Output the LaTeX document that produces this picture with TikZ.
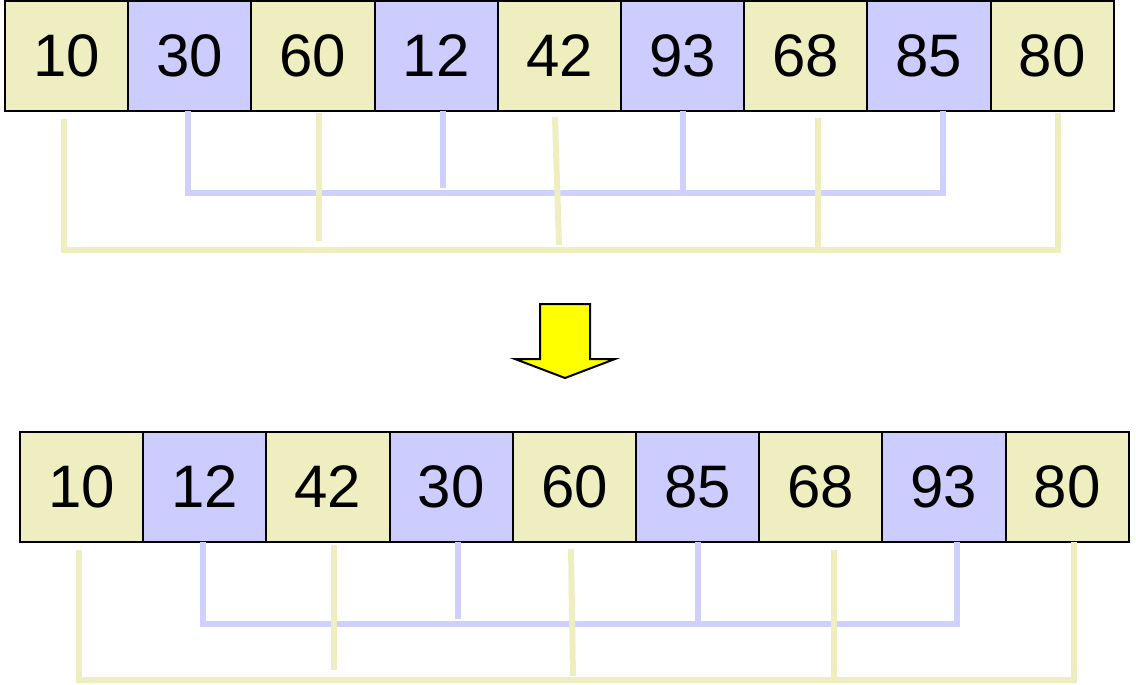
\documentclass[tikz,border=0pt]{standalone}
\usepackage{fontspec}
\setmainfont{Liberation Sans}
\definecolor{cellY}{RGB}{238,238,192}
\definecolor{cellB}{RGB}{204,204,255}
\definecolor{lineY}{RGB}{238,238,192}
\definecolor{lineB}{RGB}{208,208,255}
\definecolor{arrY}{RGB}{255,255,0}
\tikzset{
  cell/.style={draw=black, line width=2pt, minimum width=123.2pt, minimum height=110pt,
    inner sep=0pt, outer sep=0pt, font=\fontsize{60}{60}\selectfont, anchor=north west},
  ycell/.style={cell, fill=cellY},
  bcell/.style={cell, fill=cellB},
  yline/.style={draw=lineY, line width=6pt},
  bline/.style={draw=lineB, line width=6pt},
}
\begin{document}
\begin{tikzpicture}[x=1pt,y=-1pt]
\useasboundingbox (0,0) rectangle (1136,685);
% top row
\foreach \v/\s [count=\i from 0] in {10/ycell,30/bcell,60/ycell,12/bcell,42/ycell,93/bcell,68/ycell,85/bcell,80/ycell}
  \node[\s] (t\i) at ({5+123.2*\i},1) {\v};
% bottom row
\foreach \v/\s [count=\i from 0] in {10/ycell,12/bcell,42/ycell,30/bcell,60/ycell,85/bcell,68/ycell,93/bcell,80/ycell}
  \node[\s] (b\i) at ({20+123.2*\i},432) {\v};
% top connectors: blue
\coordinate (tb1) at (188,111);
\coordinate (tb3) at (443,111);
\coordinate (tb5) at (683,111);
\coordinate (tb7) at (943,111);
\draw[bline] (tb1) -- (188,193) -- (943,193) -- (tb7);
\draw[bline] (tb3) -- (443,188);
\draw[bline] (tb5) -- (683,193);
% top connectors: yellow
\coordinate (ty0) at (64,119);
\coordinate (ty2) at (319,113);
\coordinate (ty4) at (555,117);
\coordinate (ty6) at (818,118);
\coordinate (ty8) at (1058,113);
\draw[yline] (ty0) -- (64,250) -- (1058,250) -- (ty8);
\draw[yline] (ty2) -- (319,241);
\draw[yline] (ty4) -- (559,245);
\draw[yline] (ty6) -- (818,250);
% arrow
\draw[fill=arrY, line width=2pt, line join=miter]
  (540,304) -- (590,304) -- (590,359) -- (615,359) -- (565,378) -- (515,359) -- (540,359) -- cycle;
% bottom connectors: blue
\coordinate (bb1) at (203,542);
\coordinate (bb3) at (458,542);
\coordinate (bb5) at (698,542);
\coordinate (bb7) at (957,542);
\draw[bline] (bb1) -- (203,624) -- (957,624) -- (bb7);
\draw[bline] (bb3) -- (458,619);
\draw[bline] (bb5) -- (698,624);
% bottom connectors: yellow
\coordinate (by0) at (79,550);
\coordinate (by2) at (334,545);
\coordinate (by4) at (571,549);
\coordinate (by6) at (834,550);
\coordinate (by8) at (1074,542);
\draw[yline] (by0) -- (79,680) -- (1074,680) -- (by8);
\draw[yline] (by2) -- (334,670);
\draw[yline] (by4) -- (573,676);
\draw[yline] (by6) -- (834,680);
\end{tikzpicture}
\end{document}
